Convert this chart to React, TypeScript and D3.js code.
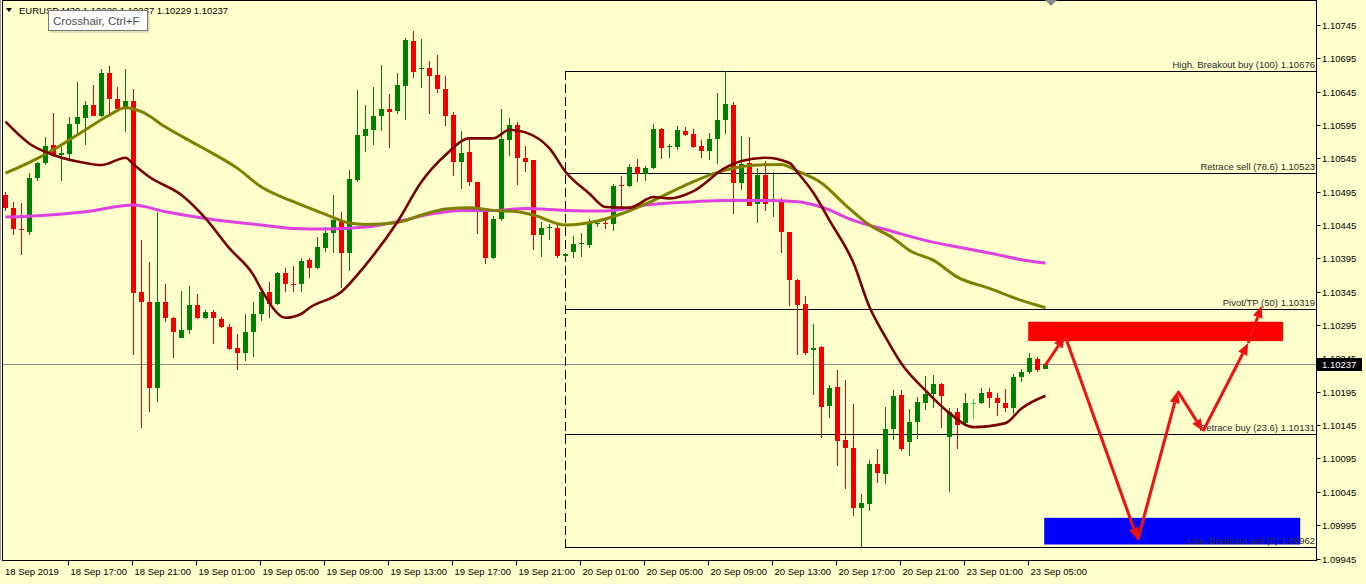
import React from "react";
import * as d3 from "d3";

// ---- DATA ----
const symbolTitle = "EURUSD,M30  1.10229 1.10237 1.10229 1.10237";
const tooltipText = "Crosshair, Ctrl+F";

// candles: [open, high, low, close], one per 30-min bar
const candles: [number, number, number, number][] = [
  [1.10490, 1.10495, 1.10466, 1.10471],
  [1.10470, 1.10480, 1.10430, 1.10439],
  [1.10439, 1.10478, 1.10400, 1.10437],
  [1.10435, 1.10523, 1.10430, 1.10515],
  [1.10515, 1.10539, 1.10511, 1.10538],
  [1.10538, 1.10577, 1.10535, 1.10564],
  [1.10565, 1.10613, 1.10547, 1.10549],
  [1.10550, 1.10562, 1.10511, 1.10553],
  [1.10552, 1.10607, 1.10542, 1.10596],
  [1.10596, 1.10660, 1.10580, 1.10607],
  [1.10606, 1.10631, 1.10565, 1.10625],
  [1.10625, 1.10655, 1.10608, 1.10609],
  [1.10609, 1.10679, 1.10607, 1.10673],
  [1.10673, 1.10683, 1.10610, 1.10634],
  [1.10634, 1.10652, 1.10615, 1.10619],
  [1.10621, 1.10679, 1.10585, 1.10631],
  [1.10631, 1.10649, 1.10250, 1.10343],
  [1.10344, 1.10422, 1.10140, 1.10330],
  [1.10330, 1.10390, 1.10165, 1.10200],
  [1.10201, 1.10465, 1.10179, 1.10330],
  [1.10330, 1.10357, 1.10300, 1.10305],
  [1.10305, 1.10307, 1.10245, 1.10285],
  [1.10276, 1.10346, 1.10275, 1.10287],
  [1.10287, 1.10354, 1.10281, 1.10325],
  [1.10325, 1.10341, 1.10304, 1.10306],
  [1.10305, 1.10317, 1.10304, 1.10314],
  [1.10314, 1.10317, 1.10266, 1.10305],
  [1.10304, 1.10307, 1.10291, 1.10292],
  [1.10292, 1.10296, 1.10258, 1.10259],
  [1.10260, 1.10281, 1.10227, 1.10253],
  [1.10253, 1.10311, 1.10241, 1.10285],
  [1.10284, 1.10329, 1.10247, 1.10312],
  [1.10312, 1.10350, 1.10301, 1.10344],
  [1.10345, 1.10360, 1.10305, 1.10326],
  [1.10326, 1.10374, 1.10325, 1.10373],
  [1.10373, 1.10380, 1.10344, 1.10356],
  [1.10357, 1.10384, 1.10345, 1.10356],
  [1.10356, 1.10396, 1.10345, 1.10391],
  [1.10392, 1.10395, 1.10365, 1.10381],
  [1.10380, 1.10427, 1.10379, 1.10412],
  [1.10410, 1.10442, 1.10405, 1.10433],
  [1.10433, 1.10490, 1.10403, 1.10452],
  [1.10452, 1.10464, 1.10350, 1.10403],
  [1.10403, 1.10527, 1.10376, 1.10514],
  [1.10512, 1.10647, 1.10510, 1.10580],
  [1.10579, 1.10625, 1.10555, 1.10589],
  [1.10587, 1.10652, 1.10565, 1.10609],
  [1.10609, 1.10685, 1.10586, 1.10619],
  [1.10619, 1.10641, 1.10561, 1.10615],
  [1.10616, 1.10673, 1.10611, 1.10655],
  [1.10654, 1.10726, 1.10603, 1.10722],
  [1.10721, 1.10736, 1.10666, 1.10675],
  [1.10679, 1.10724, 1.10651, 1.10680],
  [1.10680, 1.10691, 1.10611, 1.10669],
  [1.10670, 1.10700, 1.10643, 1.10649],
  [1.10649, 1.10669, 1.10594, 1.10609],
  [1.10610, 1.10614, 1.10519, 1.10540],
  [1.10539, 1.10586, 1.10499, 1.10553],
  [1.10555, 1.10572, 1.10504, 1.10509],
  [1.10510, 1.10510, 1.10431, 1.10472],
  [1.10466, 1.10467, 1.10386, 1.10396],
  [1.10396, 1.10458, 1.10394, 1.10454],
  [1.10454, 1.10619, 1.10451, 1.10574],
  [1.10572, 1.10606, 1.10549, 1.10595],
  [1.10595, 1.10600, 1.10505, 1.10546],
  [1.10546, 1.10564, 1.10525, 1.10540],
  [1.10542, 1.10542, 1.10408, 1.10430],
  [1.10430, 1.10449, 1.10397, 1.10441],
  [1.10440, 1.10446, 1.10423, 1.10442],
  [1.10441, 1.10446, 1.10396, 1.10399],
  [1.10398, 1.10403, 1.10397, 1.10402],
  [1.10404, 1.10429, 1.10396, 1.10416],
  [1.10416, 1.10433, 1.10397, 1.10418],
  [1.10415, 1.10454, 1.10410, 1.10450],
  [1.10446, 1.10451, 1.10442, 1.10448],
  [1.10448, 1.10452, 1.10439, 1.10446],
  [1.10446, 1.10507, 1.10436, 1.10504],
  [1.10505, 1.10519, 1.10470, 1.10503],
  [1.10504, 1.10536, 1.10502, 1.10532],
  [1.10532, 1.10544, 1.10510, 1.10521],
  [1.10521, 1.10534, 1.10511, 1.10530],
  [1.10531, 1.10596, 1.10529, 1.10589],
  [1.10589, 1.10590, 1.10544, 1.10561],
  [1.10562, 1.10566, 1.10546, 1.10564],
  [1.10562, 1.10594, 1.10558, 1.10587],
  [1.10586, 1.10592, 1.10579, 1.10580],
  [1.10581, 1.10589, 1.10560, 1.10562],
  [1.10563, 1.10572, 1.10546, 1.10556],
  [1.10556, 1.10583, 1.10542, 1.10574],
  [1.10574, 1.10643, 1.10537, 1.10603],
  [1.10603, 1.10676, 1.10581, 1.10626],
  [1.10625, 1.10629, 1.10461, 1.10508],
  [1.10508, 1.10579, 1.10498, 1.10536],
  [1.10538, 1.10577, 1.10474, 1.10474],
  [1.10476, 1.10530, 1.10448, 1.10520],
  [1.10520, 1.10541, 1.10466, 1.10476],
  [1.10479, 1.10524, 1.10457, 1.10484],
  [1.10483, 1.10486, 1.10403, 1.10434],
  [1.10434, 1.10435, 1.10324, 1.10363],
  [1.10363, 1.10364, 1.10250, 1.10325],
  [1.10326, 1.10338, 1.10250, 1.10253],
  [1.10257, 1.10296, 1.10190, 1.10260],
  [1.10262, 1.10263, 1.10126, 1.10172],
  [1.10173, 1.10205, 1.10156, 1.10200],
  [1.10202, 1.10228, 1.10083, 1.10121],
  [1.10122, 1.10212, 1.10049, 1.10110],
  [1.10110, 1.10176, 1.10008, 1.10021],
  [1.10020, 1.10042, 1.09962, 1.10028],
  [1.10026, 1.10093, 1.10016, 1.10087],
  [1.10086, 1.10109, 1.10058, 1.10073],
  [1.10071, 1.10172, 1.10057, 1.10139],
  [1.10139, 1.10197, 1.10122, 1.10188],
  [1.10190, 1.10198, 1.10106, 1.10109],
  [1.10120, 1.10169, 1.10099, 1.10150],
  [1.10150, 1.10187, 1.10124, 1.10180],
  [1.10178, 1.10218, 1.10168, 1.10191],
  [1.10191, 1.10220, 1.10171, 1.10206],
  [1.10206, 1.10208, 1.10141, 1.10188],
  [1.10127, 1.10171, 1.10045, 1.10165],
  [1.10165, 1.10170, 1.10109, 1.10145],
  [1.10148, 1.10193, 1.10146, 1.10178],
  [1.10178, 1.10184, 1.10154, 1.10178],
  [1.10178, 1.10200, 1.10177, 1.10193],
  [1.10195, 1.10200, 1.10170, 1.10186],
  [1.10186, 1.10193, 1.10158, 1.10178],
  [1.10178, 1.10199, 1.10164, 1.10170],
  [1.10170, 1.10221, 1.10162, 1.10217],
  [1.10217, 1.10229, 1.10210, 1.10224],
  [1.10224, 1.10253, 1.10221, 1.10245],
  [1.10244, 1.10247, 1.10225, 1.10227],
  [1.10229, 1.10237, 1.10229, 1.10237],
];

// moving averages: [bar index, price]
const maSlow: [number, number][] = [
  [0, 1.10457], [4, 1.10459], [10, 1.10465], [16, 1.10475], [20, 1.10465],
  [25, 1.10455], [32, 1.10445], [36, 1.10440], [40, 1.10439], [45, 1.10442],
  [49, 1.10450], [53, 1.10461], [57, 1.10467], [61, 1.10467], [65, 1.10470],
  [70, 1.10467], [75, 1.10466], [80, 1.10475], [86, 1.10480], [90, 1.10482],
  [95, 1.10482], [99, 1.10480], [102, 1.10472], [106, 1.10452], [111, 1.10435],
  [115, 1.10422], [119, 1.10412], [123, 1.10403], [127, 1.10393], [130, 1.10388],
];
const maMid: [number, number][] = [
  [0, 1.10523], [3, 1.10539], [6, 1.10558], [10, 1.10588], [13, 1.10610],
  [15, 1.10621], [17, 1.10615], [20, 1.10592], [24, 1.10565], [29, 1.10530],
  [32, 1.10502], [36, 1.10480], [40, 1.10461], [43, 1.10448], [45, 1.10446],
  [49, 1.10449], [52, 1.10460], [55, 1.10469], [58, 1.10471], [61, 1.10467],
  [64, 1.10465], [66, 1.10460], [70, 1.10445], [74, 1.10451], [77, 1.10462],
  [81, 1.10482], [85, 1.10505], [89, 1.10524], [94, 1.10535], [97, 1.10536],
  [99, 1.10526], [102, 1.10508], [105, 1.10475], [108, 1.10445], [111, 1.10425],
  [113, 1.10407], [116, 1.10392], [119, 1.10367], [123, 1.10350], [127, 1.10332],
  [130, 1.10321],
];
const maFast: [number, number][] = [
  [0, 1.10600], [3, 1.10567], [6, 1.10550], [10, 1.10538], [12, 1.10535],
  [15, 1.10546], [16, 1.10536], [18, 1.10517], [22, 1.10490], [25, 1.10455],
  [28, 1.10410], [31, 1.10370], [32, 1.10348], [35, 1.10306], [37, 1.10312],
  [38, 1.10321], [42, 1.10345], [45, 1.10385], [49, 1.10450], [52, 1.10510],
  [55, 1.10550], [58, 1.10575], [61, 1.10575], [63, 1.10588], [65, 1.10584],
  [68, 1.10560], [70, 1.10525], [73, 1.10492], [75, 1.10472], [78, 1.10471],
  [81, 1.10487], [83, 1.10485], [86, 1.10496], [90, 1.10531], [92, 1.10541],
  [95, 1.10546], [98, 1.10538], [99, 1.10524], [101, 1.10493], [103, 1.10452],
  [106, 1.10388], [108, 1.10322], [110, 1.10277], [112, 1.10237], [115, 1.10197],
  [118, 1.10163], [121, 1.10142], [125, 1.10148], [127, 1.10170], [130, 1.10189],
];

// price axis ticks
const priceTicks = [
  1.10745, 1.10695, 1.10645, 1.10595, 1.10545, 1.10495, 1.10445, 1.10395, 1.10345,
  1.10295, 1.10245, 1.10195, 1.10145, 1.10095, 1.10045, 1.09995, 1.09945,
];
// time axis ticks: [bar index, label]
const timeTicks: [number, string][] = [
  [0, "18 Sep 2019"], [8, "18 Sep 17:00"], [16, "18 Sep 21:00"], [24, "19 Sep 01:00"],
  [32, "19 Sep 05:00"], [40, "19 Sep 09:00"], [48, "19 Sep 13:00"], [56, "19 Sep 17:00"],
  [64, "19 Sep 21:00"], [72, "20 Sep 01:00"], [80, "20 Sep 05:00"], [88, "20 Sep 09:00"],
  [96, "20 Sep 13:00"], [104, "20 Sep 17:00"], [112, "20 Sep 21:00"], [120, "23 Sep 01:00"],
  [128, "23 Sep 05:00"],
];

const currentPrice = 1.10237;

// fibonacci levels
const fibStartBar = 70;
const fibLevels: [number, string][] = [
  [1.10676, "High. Breakout buy (100)"],
  [1.10523, "Retrace sell (78.6)"],
  [1.10319, "Pivot/TP (50)"],
  [1.10131, "Retrace buy (23.6)"],
  [1.09962, "Low. Breakout sell (0)"],
];

// zones: [bar from, bar to, price top, price bottom]
const redZone: [number, number, number, number] = [127.9, 159.75, 1.10300, 1.10271];
const blueZone: [number, number, number, number] = [129.9, 161.9, 1.10006, 1.09966];

// projected path: [bar index, price]
const pathPoints: [number, number][] = [
  [130, 1.10234], [132.5, 1.10279], [141.6, 1.09973], [146.6, 1.10196],
  [149.75, 1.10136], [155.4, 1.10268], [157.1, 1.10324],
];

// ---- COMPONENT ----
const W = 1366;
const H = 584;
const FONT = "'Liberation Sans', Arial, sans-serif";

export default function App() {
  const plotLeft = 2.5;
  const plotRight = 1316.5;
  const plotBottom = 560.5;

  const x = d3.scaleLinear().domain([0, 130]).range([5, 1045]);
  const y = d3.scaleLinear().domain([1.09945, 1.10745]).range([558.5, 25]);

  const line = d3
    .line<[number, number]>()
    .x((d) => x(d[0]) + 0.5)
    .y((d) => y(d[1]))
    .curve(d3.curveMonotoneX);

  const bull = "#008000";
  const bear = "#f00000";

  const arrowSegs = pathPoints.slice(1).map((p, k) => {
    const a = pathPoints[k];
    const ax = x(a[0]);
    const ay = y(a[1]);
    const bx = x(p[0]);
    const by = y(p[1]);
    const ang = Math.atan2(by - ay, bx - ax);
    const len = 12;
    const hw = 5;
    const baseX = bx - len * Math.cos(ang);
    const baseY = by - len * Math.sin(ang);
    const px = -Math.sin(ang) * hw;
    const py = Math.cos(ang) * hw;
    return { ax, ay, baseX, baseY, bx, by, px, py };
  });

  return (
    <svg
      width={W}
      height={H}
      style={{ position: "absolute", left: 0, top: 0, display: "block" }}
      fontFamily={FONT}
    >
      <rect x={0} y={0} width={W} height={H} fill="#ffffcc" />

      {/* zones (background) */}
      <rect
        x={x(redZone[0])}
        y={y(redZone[2])}
        width={x(redZone[1]) - x(redZone[0])}
        height={y(redZone[3]) - y(redZone[2])}
        fill="#ff0000"
      />
      <rect
        x={x(blueZone[0])}
        y={y(blueZone[2])}
        width={x(blueZone[1]) - x(blueZone[0])}
        height={y(blueZone[3]) - y(blueZone[2])}
        fill="#0000ff"
      />

      {/* current price line */}
      <line
        x1={plotLeft}
        x2={plotRight}
        y1={Math.round(y(currentPrice)) + 0.5}
        y2={Math.round(y(currentPrice)) + 0.5}
        stroke="#8c8c8c"
        strokeWidth={1}
      />

      {/* fibonacci */}
      <line
        x1={x(fibStartBar) + 0.5}
        x2={x(fibStartBar) + 0.5}
        y1={y(fibLevels[0][0])}
        y2={y(fibLevels[fibLevels.length - 1][0])}
        stroke="#000"
        strokeWidth={1}
        strokeDasharray="9,4"
      />
      {fibLevels.map(([lv]) => (
        <line
          key={"fl" + lv}
          x1={x(fibStartBar)}
          x2={plotRight}
          y1={Math.round(y(lv)) + 0.5}
          y2={Math.round(y(lv)) + 0.5}
          stroke="#000"
          strokeWidth={1}
        />
      ))}

      {/* candles */}
      {candles.map(([o, h, l, c], i) => {
        const xc = Math.round(x(i));
        const col = o === c ? "#44cc44" : c > o ? bull : bear;
        const top = Math.round(y(Math.max(o, c)));
        const bot = Math.round(y(Math.min(o, c)));
        const yh = Math.round(y(h));
        const yl = Math.round(y(l));
        return (
          <g key={i} shapeRendering="crispEdges">
            <rect x={xc} y={yh} width={1} height={Math.max(1, yl - yh)} fill={col} />
            <rect x={xc - 2} y={top} width={5} height={Math.max(1, bot - top)} fill={col} />
          </g>
        );
      })}

      {/* moving averages */}
      <path d={line(maSlow) || ""} fill="none" stroke="#e040e0" strokeWidth={3} />
      <path d={line(maMid) || ""} fill="none" stroke="#808000" strokeWidth={3} />
      <path d={line(maFast) || ""} fill="none" stroke="#7a0000" strokeWidth={2.6} />

      {/* fib labels */}
      {fibLevels.map(([lv, name]) => (
        <text
          key={"ft" + lv}
          x={1315}
          y={Math.round(y(lv)) - 3}
          textAnchor="end"
          fontSize={9.5}
          fill="#2a2a2a"
        >
          {name + "  " + lv.toFixed(5)}
        </text>
      ))}

      {/* projected path arrows */}
      {arrowSegs.map((s, k) => (
        <g key={"ar" + k}>
          <line x1={s.ax} y1={s.ay} x2={s.baseX} y2={s.baseY} stroke="#ee1111" strokeWidth={3} />
          <polygon
            points={`${s.bx},${s.by} ${s.baseX + s.px},${s.baseY + s.py} ${s.baseX - s.px},${s.baseY - s.py}`}
            fill="#ee1111"
          />
        </g>
      ))}

      {/* frame */}
      <rect
        x={plotLeft}
        y={0.5}
        width={plotRight - plotLeft}
        height={plotBottom - 0.5}
        fill="none"
        stroke="#000"
        strokeWidth={1}
      />
      <line x1={0.5} x2={0.5} y1={0} y2={plotBottom} stroke="#9a9a9a" />

      {/* price axis */}
      {priceTicks.map((p) => {
        const ty = Math.round(y(p)) + 0.5;
        return (
          <g key={"pt" + p}>
            <line x1={plotRight} x2={plotRight + 4} y1={ty} y2={ty} stroke="#000" />
            <text x={1322} y={ty} dy="0.35em" fontSize={9.5} fill="#000">
              {p.toFixed(5)}
            </text>
          </g>
        );
      })}
      <rect
        x={1317}
        y={Math.round(y(currentPrice)) - 6}
        width={45}
        height={13}
        fill="#000"
      />
      <text
        x={1322}
        y={Math.round(y(currentPrice)) + 0.5}
        dy="0.35em"
        fontSize={9.5}
        fill="#fff"
      >
        {currentPrice.toFixed(5)}
      </text>

      {/* time axis */}
      {timeTicks.map(([b, label]) => {
        const tx = Math.round(x(b)) - 0.5;
        return (
          <g key={"tt" + b}>
            {b > 0 && <line x1={tx} x2={tx} y1={plotBottom} y2={plotBottom + 5} stroke="#000" />}
            <text x={b > 0 ? tx + 2 : 5} y={575} fontSize={9.5} fill="#000">
              {label}
            </text>
          </g>
        );
      })}

      {/* chart shift marker */}
      <polygon points="1045,0 1057,0 1051,6" fill="#8a8a8a" />

      {/* title */}
      <polygon points="6,8 12,8 9,12" fill="#000" />
      <text x={19} y={14} fontSize={9.5} fill="#000">
        {symbolTitle}
      </text>

      {/* tooltip */}
      <rect x={50} y={12} width={100} height={21} fill="#cfcfb0" opacity={0.6} />
      <rect x={48.5} y={10.5} width={99} height={20} fill="#fdfdfd" stroke="#767676" />
      <text x={53} y={25} fontSize={11.5} fill="#505050">
        {tooltipText}
      </text>
    </svg>
  );
}
